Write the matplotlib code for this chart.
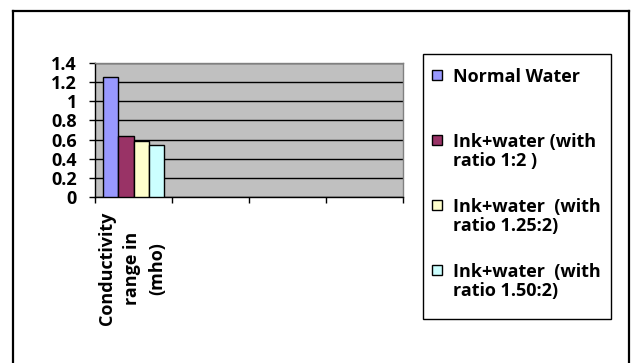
import matplotlib
matplotlib.use("Agg")
import matplotlib.pyplot as plt
from matplotlib.patches import Rectangle
from matplotlib.lines import Line2D
import numpy as np

plt.rcParams["font.family"] = ["Open Sans", "DejaVu Sans"]
plt.rcParams["font.weight"] = "bold"

categories = ["Conductivity\nrange in\n(mho)", "", "", ""]
series_labels = ["Normal Water", "Ink+water (with\nratio 1:2 )",
                 "Ink+water  (with\nratio 1.25:2)", "Ink+water  (with\nratio 1.50:2)"]
series_values = [1.25, 0.64, 0.58, 0.54]
series_colors = ["#9999FF", "#993366", "#FFFFCC", "#CCFFFF"]
yticks = [0, 0.2, 0.4, 0.6, 0.8, 1, 1.2, 1.4]
fs = 13

W, H = 631, 363
fig = plt.figure(figsize=(W / 100, H / 100), dpi=100)

def fx(px):
    return px / W

def fy(py):
    return 1 - py / H

ax = fig.add_axes([fx(95), fy(197), fx(403) - fx(95), fy(63) - fy(197)])
ax.set_facecolor("#C0C0C0")

# bars in the first category slot
bw = 0.2
offs = 0.1 + bw / 2
for i, (v, c) in enumerate(zip(series_values, series_colors)):
    ax.bar(offs + i * bw, v, width=bw, color=c, edgecolor="black", linewidth=1.0, zorder=3)

ax.set_xlim(0, len(categories))
ax.set_ylim(0, 1.4)
ax.set_yticks(yticks)
ax.set_yticklabels(["0", "0.2", "0.4", "0.6", "0.8", "1", "1.2", "1.4"], fontsize=fs, fontweight="bold")
ax.yaxis.grid(True, color="black", linewidth=1.0, zorder=1)
ax.set_axisbelow(True)

ax.set_xticks(np.arange(len(categories) + 1))
ax.set_xticklabels([])
ax.tick_params(axis="both", direction="out", length=4.5, width=1, color="black")
ax.tick_params(axis="y", pad=8.5)
for s in ["left", "bottom"]:
    ax.spines[s].set_color("black")
    ax.spines[s].set_linewidth(1.0)
for s in ["top", "right"]:
    ax.spines[s].set_color("#808080")
    ax.spines[s].set_linewidth(1.0)

# category label rotated
ax.text(0.48, -0.11, categories[0], transform=ax.get_xaxis_transform(), rotation=90,
        ha="center", va="top", multialignment="center", fontsize=fs, fontweight="bold",
        linespacing=1.5)

# legend drawn by hand
fig.add_artist(Rectangle((fx(423), fy(319)), fx(611) - fx(423), fy(54) - fy(319),
                         transform=fig.transFigure, facecolor="white", edgecolor="black", linewidth=1.0))
row_y = [76, 141, 206, 271]
for lab, c, ry in zip(series_labels, series_colors, row_y):
    fig.add_artist(Rectangle((fx(432), fy(ry + 4)), fx(10), 10 / H, transform=fig.transFigure,
                             facecolor=c, edgecolor="black", linewidth=1.0))
    fig.text(fx(453), fy(ry - 8), lab, ha="left", va="top", fontsize=fs, fontweight="bold",
             linespacing=1.1)

# outer chart frame
lw = 1.6
fig.add_artist(Line2D([fx(13), fx(13)], [0, fy(11)], transform=fig.transFigure, color="black", linewidth=lw))
fig.add_artist(Line2D([fx(13), fx(629)], [fy(11), fy(11)], transform=fig.transFigure, color="black", linewidth=lw))
fig.add_artist(Line2D([fx(629), fx(629)], [fy(11), 0], transform=fig.transFigure, color="black", linewidth=lw))

fig.savefig("out.png", dpi=100)
plt.close()
